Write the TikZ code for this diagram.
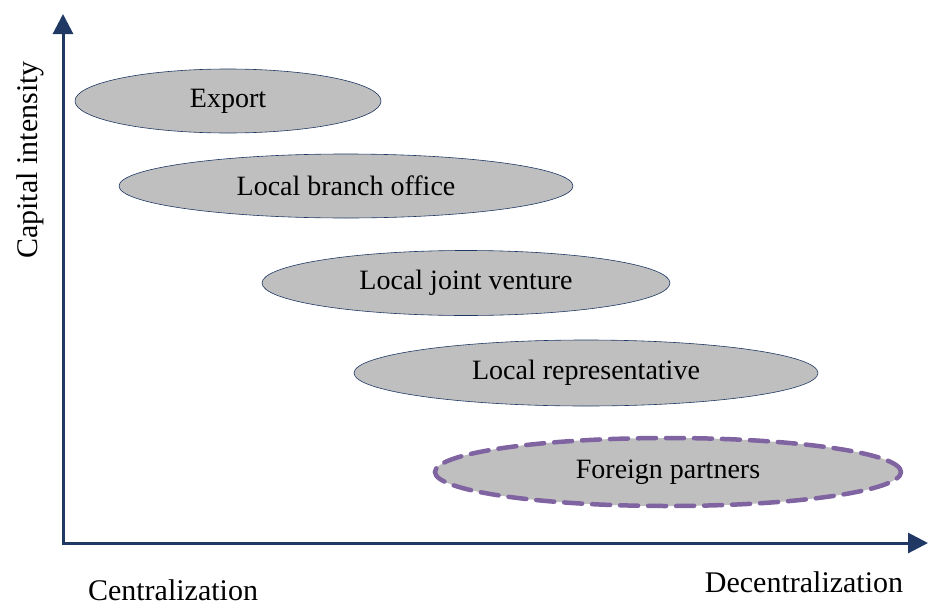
\documentclass[tikz,border=0pt]{standalone}
\usepackage{fontspec}
\setmainfont{Liberation Serif}
\usetikzlibrary{arrows.meta,shapes.geometric}
\definecolor{navy}{RGB}{31,56,100}
\definecolor{ellfill}{RGB}{191,191,191}
\definecolor{purp}{RGB}{128,100,162}
\tikzset{
  axisline/.style={draw=navy, line width=3pt,
    {Triangle[length=20pt,width=20pt]}-{Triangle[length=20pt,width=20pt]}},
  oval/.style={ellipse, draw=navy, line width=0.6pt, fill=ellfill, inner sep=0pt,
    font=\fontsize{28}{30}\selectfont},
  dashoval/.style={oval, draw=purp, line width=4.5pt, line cap=round,
    dash pattern=on 18pt off 10pt},
  axislabel/.style={font=\fontsize{30}{32}\selectfont, inner sep=0pt}
}
\begin{document}
\begin{tikzpicture}[x=1pt,y=-1pt]
\useasboundingbox (0,0) rectangle (928,605);
\coordinate (ytip) at (63,14);
\coordinate (orig) at (63,543);
\coordinate (xtip) at (928,543);
\draw[axisline] (ytip) -- (orig) -- (xtip);
\node[oval, minimum width=306pt, minimum height=64pt] (export) at (228,101) {Export};
\node[oval, minimum width=454pt, minimum height=64pt] (branch) at (346,186) {Local branch office};
\node[oval, minimum width=408pt, minimum height=65pt] (jv) at (466,283) {Local joint venture};
\node[oval, minimum width=464pt, minimum height=66pt] (rep) at (586,373) {Local representative};
\node[dashoval, minimum width=466pt, minimum height=68pt] (fp) at (668,472) {Foreign partners};
\node[axislabel, rotate=90, anchor=base] (ylab) at (37,160) {Capital intensity};
\node[axislabel, anchor=base] (cen) at (173,600) {Centralization};
\node[axislabel, anchor=base] (dec) at (804,592) {Decentralization};
\end{tikzpicture}
\end{document}
